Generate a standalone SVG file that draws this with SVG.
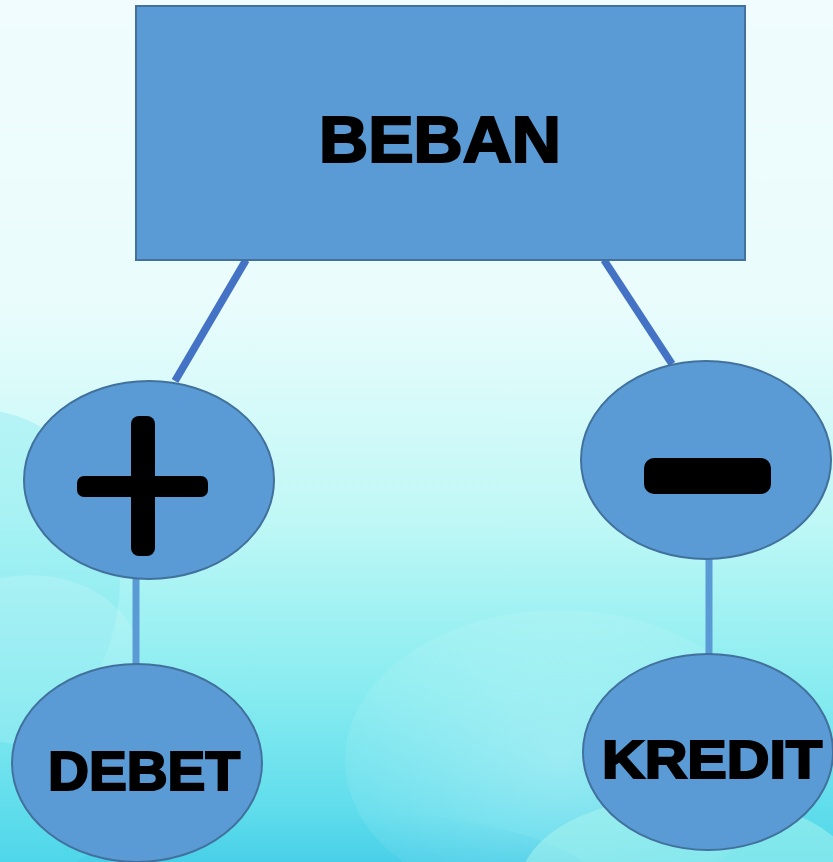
<svg xmlns="http://www.w3.org/2000/svg" width="833" height="862" viewBox="0 0 833 862">
<defs>
<linearGradient id="bg" x1="0" y1="0" x2="0" y2="1">
<stop offset="0" stop-color="#f0fcfd"/>
<stop offset="0.35" stop-color="#eafcfc"/>
<stop offset="0.6" stop-color="#c0f8f6"/>
<stop offset="0.8" stop-color="#88ecf0"/>
<stop offset="1" stop-color="#4ed6ea"/>
</linearGradient>
<radialGradient id="glow" cx="0.5" cy="0.5" r="0.5">
<stop offset="0" stop-color="#ffffff" stop-opacity="0.3"/>
<stop offset="1" stop-color="#ffffff" stop-opacity="0.08"/>
</radialGradient>
<linearGradient id="deep" x1="0" y1="0" x2="0" y2="1">
<stop offset="0" stop-color="#3fc6e6" stop-opacity="0"/>
<stop offset="1" stop-color="#2a98d6" stop-opacity="0.8"/>
</linearGradient>
<style>
.node{fill:#5b9bd5;stroke:#41719c;stroke-width:2}
.lbl{font-family:"Liberation Sans",Arial,sans-serif;font-weight:bold;fill:#000;stroke:#000;stroke-width:2.2;text-anchor:middle}
.sign{fill:#000}
</style>
</defs>
<rect width="833" height="862" fill="url(#bg)"/>
<g id="background">
<ellipse cx="-20" cy="580" rx="140" ry="170" fill="#6fe4ee" opacity="0.3"/>
<ellipse cx="560" cy="760" rx="215" ry="150" fill="url(#glow)"/>
<ellipse cx="330" cy="900" rx="280" ry="90" fill="url(#deep)"/>
<ellipse cx="690" cy="885" rx="170" ry="90" fill="#aef6ee" opacity="0.5"/>
<ellipse cx="30" cy="660" rx="110" ry="85" fill="#ffffff" opacity="0.15"/>
</g>
<g id="connectors">
<line x1="246" y1="260" x2="175" y2="381" stroke="#4472c4" stroke-width="7.5"/>
<line x1="604" y1="260" x2="672" y2="364" stroke="#4472c4" stroke-width="7.5"/>
<line x1="136" y1="577" x2="136" y2="665" stroke="#5b9bd5" stroke-width="7"/>
<line x1="709" y1="558" x2="709" y2="655" stroke="#5b9bd5" stroke-width="7"/>
</g>
<g id="beban">
<rect class="node" x="136" y="6" width="609" height="254"/>
<text class="lbl" x="440" y="162" font-size="65" textLength="242" lengthAdjust="spacingAndGlyphs">BEBAN</text>
</g>
<g id="plus">
<ellipse class="node" cx="149" cy="480" rx="125" ry="99"/>
<rect class="sign" x="131" y="416" width="24" height="140" rx="8"/>
<rect class="sign" x="77" y="476" width="131" height="21" rx="7"/>
</g>
<g id="minus">
<ellipse class="node" cx="706" cy="460" rx="125" ry="99"/>
<rect class="sign" x="644" y="458" width="127" height="36" rx="10"/>
</g>
<g id="debet">
<ellipse class="node" cx="137" cy="763" rx="125" ry="99"/>
<text class="lbl" x="144" y="790" font-size="56" textLength="192" lengthAdjust="spacingAndGlyphs">DEBET</text>
</g>
<g id="kredit">
<ellipse class="node" cx="708" cy="752" rx="125" ry="98"/>
<text class="lbl" x="712" y="778" font-size="53" textLength="220" lengthAdjust="spacingAndGlyphs">KREDIT</text>
</g>
</svg>
